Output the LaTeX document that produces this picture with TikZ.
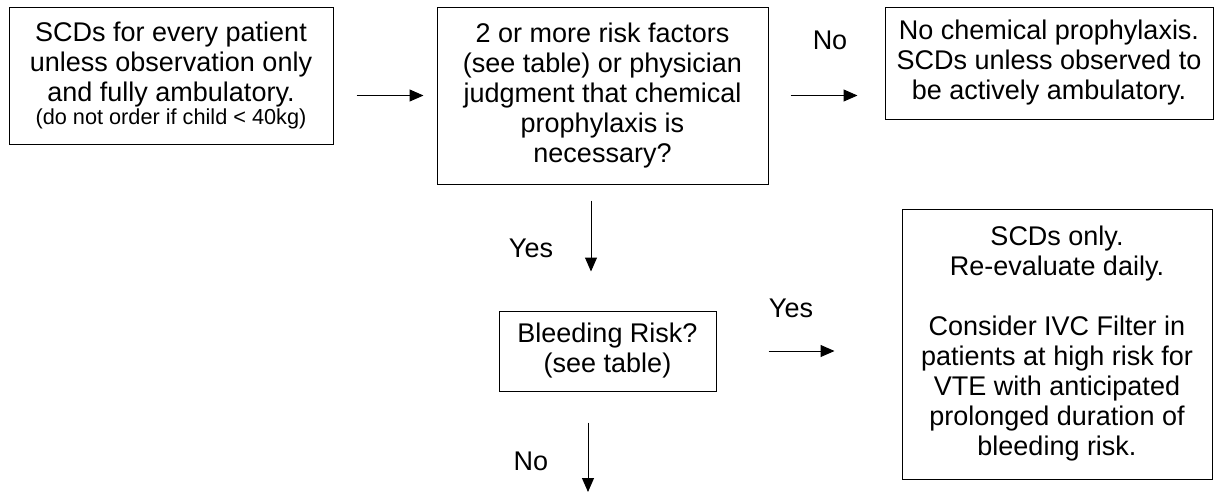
\documentclass[tikz,border=0pt]{standalone}
\usepackage{fontspec}
\setmainfont{Liberation Sans}
\usetikzlibrary{arrows.meta}
\begin{document}
\begin{tikzpicture}[x=1pt,y=-1pt,
  box/.style={draw=black, line width=1pt, inner sep=0pt, align=center,
    font=\fontsize{27}{30}\selectfont},
  lbl/.style={inner sep=0pt, font=\fontsize{27}{30}\selectfont},
  arr/.style={line width=1pt, -{Triangle[length=14pt,width=12pt]}}]
\useasboundingbox (0,0) rectangle (1215,493);
\node[box, minimum width=324pt, minimum height=137pt] (b1) at (171,75.5)
  {SCDs for every patient\\unless observation only\\and fully ambulatory.\\[-7pt]
   {\fontsize{21.7}{22}\selectfont (do not order if child < 40kg)}};
\node[box, minimum width=331pt, minimum height=177pt] (b2) at (602.5,95.5)
  {2 or more risk factors\\(see table) or physician\\judgment that chemical\\prophylaxis is\\necessary?};
\node[box, minimum width=328pt, minimum height=112pt] (b3) at (1049,63)
  {No chemical prophylaxis.\\SCDs unless observed to\\be actively ambulatory.};
\node[box, minimum width=217pt, minimum height=80pt] (b4) at (607.5,351)
  {Bleeding Risk?\\(see table)};
\node[box, minimum width=310pt, minimum height=270pt] (b5) at (1057,344)
  {SCDs only.\\Re-evaluate daily.\\[30pt]Consider IVC Filter in\\patients at high risk for\\VTE with anticipated\\prolonged duration of\\bleeding risk.};
\coordinate (end) at (588,492);
\node[lbl] (lno1) at (830,40) {No};
\node[lbl] (lyes1) at (531,248) {Yes};
\node[lbl] (lyes2) at (791,308) {Yes};
\node[lbl] (lno2) at (531,461) {No};
\draw[arr, shorten <=23pt, shorten >=13pt] (b1.east |- b2.west) -- (b2.west);
\draw[arr, shorten <=22pt, shorten >=27pt] (b2.east) -- (b3.west |- b2.east);
\draw[arr] ([xshift=-11.5pt,yshift=-16pt]b2.south) -- ([xshift=-16.5pt,yshift=39pt]b4.north);
\draw[arr, shorten <=52pt, shorten >=67pt] (b4.east) -- (b5.west |- b4.east);
\draw[arr] ([xshift=-19.5pt,yshift=-31pt]b4.south) -- (end);
\end{tikzpicture}
\end{document}
